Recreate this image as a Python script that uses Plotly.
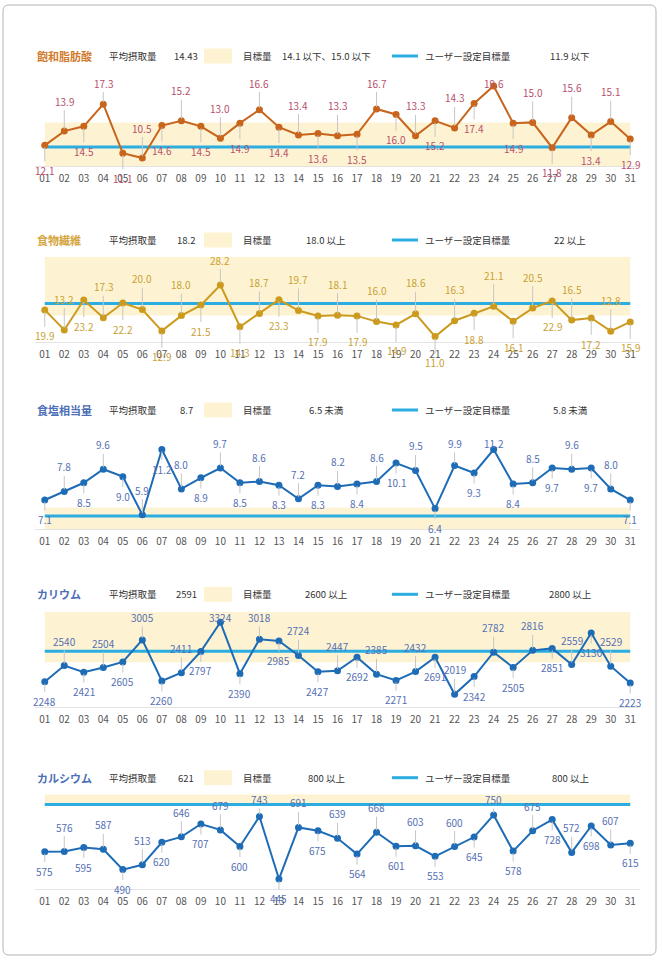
import plotly.graph_objects as go

W, H = 662, 961
FONT = "Noto Sans CJK JP, Noto Sans, sans-serif"

# ---------------- data ----------------
day_nums = list(range(1, 32))
day_labels = [f"{i:02d}" for i in day_nums]

sat_fat = [12.1, 13.9, 14.5, 17.3, 11.1, 10.5, 14.6, 15.2, 14.5, 13.0, 14.9, 16.6, 14.4, 13.4, 13.6, 13.3,
           13.5, 16.7, 16.0, 13.3, 15.2, 14.3, 17.4, 19.6, 14.9, 15.0, 11.8, 15.6, 13.4, 15.1, 12.9]
fiber = [19.9, 13.2, 23.2, 17.3, 22.2, 20.0, 12.9, 18.0, 21.5, 28.2, 14.3, 18.7, 23.3, 19.7, 17.9, 18.1,
         17.9, 16.0, 14.9, 18.6, 11.0, 16.3, 18.8, 21.1, 16.1, 20.5, 22.9, 16.5, 17.2, 12.8, 15.9]
salt = [7.1, 7.8, 8.5, 9.6, 9.0, 5.9, 11.2, 8.0, 8.9, 9.7, 8.5, 8.6, 8.3, 7.2, 8.3, 8.2,
        8.4, 8.6, 10.1, 9.5, 6.4, 9.9, 9.3, 11.2, 8.4, 8.5, 9.7, 9.6, 9.7, 8.0, 7.1]
potassium = [2248, 2540, 2421, 2504, 2605, 3005, 2260, 2411, 2797, 3324, 2390, 3018, 2985, 2724, 2427, 2447,
             2692, 2385, 2271, 2432, 2691, 2019, 2342, 2782, 2505, 2816, 2851, 2559, 3130, 2529, 2223]
calcium = [575, 576, 595, 587, 490, 513, 620, 646, 707, 679, 600, 743, 445, 691, 675, 639,
           564, 668, 601, 603, 553, 600, 645, 750, 578, 675, 728, 572, 698, 607, 615]

series = [sat_fat, fiber, salt, potassium, calcium]
titles = ["飽和脂肪酸", "食物繊維", "食塩相当量", "カリウム", "カルシウム"]
avg_intake = ["14.43", "18.2", "8.7", "2591", "621"]
target_text = ["14.1 以下、15.0 以下", "18.0 以上", "6.5 未満", "2600 以上", "800 以上"]
target_low = [None, 18.0, None, 2600, 800]
target_high = [15.0, None, 6.5, None, None]
user_target = [11.9, 22, 5.8, 2800, 800]
user_text = ["11.9 以下", "22 以上", "5.8 未満", "2800 以上", "800 以上"]
decimals = [1, 1, 1, 0, 0]

# ---------------- styles / layout ----------------
BLUE_T = "#5570b5"
styles = [
    dict(header=56, top=76, bottom=166, yr=(9.49, 20.86), up=30, down=25, clamp=83,
         title_c="#d27a2c", line_c="#c8641c", label_c="#b8506c"),
    dict(header=240, top=256.7, bottom=342.3, yr=(9.1, 37.63), up=31, down=26, clamp=260,
         title_c="#d4a43c", line_c="#cc9b1e", label_c="#c9a132"),
    dict(header=410, top=429, bottom=529.3, yr=(4.72, 12.87), up=24.5, down=19.5, clamp=443.3,
         title_c="#4d6fb6", line_c="#1e6cb6", label_c=BLUE_T),
    dict(header=594.3, top=611.7, bottom=706.7, yr=(1795, 3516), up=24.5, down=19.5, clamp=617.3,
         title_c="#4d6fb6", line_c="#1e6cb6", label_c=BLUE_T),
    dict(header=777.7, top=794.3, bottom=889, yr=(397.6, 848.6), up=24.5, down=19.5, clamp=799.5,
         title_c="#4d6fb6", line_c="#1e6cb6", label_c=BLUE_T),
]

X0, X1 = 35, 640
BAND = "#fdf3d2"
UBLUE = "#2badE2"

fig = go.Figure()
annotations = []
shapes = []
layout = {}

def py(p):
    return 1 - p / H

def px(p):
    return p / W

for i, (vals, st) in enumerate(zip(series, styles)):
    k = i + 1
    xs = "x" if k == 1 else f"x{k}"
    ys = "y" if k == 1 else f"y{k}"
    xa = "xaxis" if k == 1 else f"xaxis{k}"
    ya = "yaxis" if k == 1 else f"yaxis{k}"
    r0, r1 = st["yr"]
    layout[xa] = dict(domain=[px(X0), px(X1)], range=[0.5, 31.5], anchor=ys,
                      tickmode="array", tickvals=day_nums, ticktext=day_labels,
                      tickfont=dict(size=10, color="#555", family=FONT),
                      ticks="outside", ticklen=3, tickcolor="rgba(0,0,0,0)",
                      showline=True, linecolor="#e3e3e3", linewidth=1,
                      showgrid=False, zeroline=False, fixedrange=True)
    layout[ya] = dict(domain=[py(st["bottom"]), py(st["top"])], range=[r0, r1], anchor=xs,
                      visible=False, showgrid=False, zeroline=False, fixedrange=True)

    # target band
    lo = target_low[i] if target_low[i] is not None else r0
    hi = target_high[i] if target_high[i] is not None else r1
    shapes.append(dict(type="rect", xref=xs, yref=ys, x0=1, x1=31, y0=lo, y1=hi,
                       fillcolor=BAND, line=dict(width=0), layer="below"))
    # user target line
    shapes.append(dict(type="line", xref=xs, yref=ys, x0=1, x1=31, y0=user_target[i], y1=user_target[i],
                       line=dict(color=UBLUE, width=3), layer="below"))

    fig.add_trace(go.Scatter(x=day_nums, y=vals, mode="lines+markers", xaxis=xs, yaxis=ys,
                             line=dict(color=st["line_c"], width=2),
                             marker=dict(size=7, color=st["line_c"]),
                             cliponaxis=False, hoverinfo="skip", showlegend=False))

    ppu = (st["bottom"] - st["top"]) / (r1 - r0)
    clamp_v = r1 - (st["clamp"] - st["top"]) / ppu
    for j, (d, v) in enumerate(zip(day_nums, vals)):
        if j % 2 == 0:
            ly = v - st["down"] / ppu
        else:
            ly = min(v + st["up"] / ppu, clamp_v)
        txt = f"{v:.{decimals[i]}f}"
        annotations.append(dict(x=d, y=v, xref=xs, yref=ys, ax=0, ay=ly, axref="pixel", ayref=ys,
                                text=txt, showarrow=True, arrowhead=0, arrowwidth=1,
                                arrowcolor="#c6c6c6", standoff=2,
                                font=dict(size=10, color=st["label_c"], family=FONT)))

    # header
    hy = py(st["header"])
    annotations.append(dict(x=px(35), y=hy, xref="paper", yref="paper", xanchor="left", yanchor="middle",
                            text=f"<b>{titles[i]}</b>", showarrow=False,
                            font=dict(size=11, color=st["title_c"], family=FONT)))
    annotations.append(dict(x=px(107), y=hy, xref="paper", yref="paper", xanchor="left", yanchor="middle",
                            text="平均摂取量", showarrow=False, font=dict(size=9.5, color="#333", family=FONT)))
    annotations.append(dict(x=px(186), y=hy, xref="paper", yref="paper", xanchor="center", yanchor="middle",
                            text=avg_intake[i], showarrow=False, font=dict(size=9.5, color="#333", family=FONT)))
    shapes.append(dict(type="rect", xref="paper", yref="paper", x0=px(204), x1=px(232),
                       y0=py(st["header"] + 7.5), y1=py(st["header"] - 7.5),
                       fillcolor=BAND, line=dict(width=0)))
    annotations.append(dict(x=px(241), y=hy, xref="paper", yref="paper", xanchor="left", yanchor="middle",
                            text="目標量", showarrow=False, font=dict(size=9.5, color="#333", family=FONT)))
    annotations.append(dict(x=px(326), y=hy, xref="paper", yref="paper", xanchor="center", yanchor="middle",
                            text=target_text[i], showarrow=False, font=dict(size=9.5, color="#333", family=FONT)))
    shapes.append(dict(type="line", xref="paper", yref="paper", x0=px(392), x1=px(418), y0=hy, y1=hy,
                       line=dict(color=UBLUE, width=3)))
    annotations.append(dict(x=px(423), y=hy, xref="paper", yref="paper", xanchor="left", yanchor="middle",
                            text="ユーザー設定目標量", showarrow=False, font=dict(size=9.5, color="#333", family=FONT)))
    annotations.append(dict(x=px(570), y=hy, xref="paper", yref="paper", xanchor="center", yanchor="middle",
                            text=user_text[i], showarrow=False, font=dict(size=9.5, color="#333", family=FONT)))

# outer rounded border
bx0, by0, bx1, by1, r = 3, 5, 656, 955, 6
def P(xp, yp):
    return f"{px(xp):.5f},{py(yp):.5f}"
path = (f"M {P(bx0 + r, by0)} L {P(bx1 - r, by0)} Q {P(bx1, by0)} {P(bx1, by0 + r)} "
        f"L {P(bx1, by1 - r)} Q {P(bx1, by1)} {P(bx1 - r, by1)} L {P(bx0 + r, by1)} "
        f"Q {P(bx0, by1)} {P(bx0, by1 - r)} L {P(bx0, by0 + r)} Q {P(bx0, by0)} {P(bx0 + r, by0)} Z")
shapes.append(dict(type="path", xref="paper", yref="paper", path=path,
                   line=dict(color="#b4b4b4", width=1), fillcolor="rgba(0,0,0,0)"))

fig.update_layout(width=W, height=H, margin=dict(l=0, r=0, t=0, b=0),
                  paper_bgcolor="white", plot_bgcolor="rgba(0,0,0,0)",
                  font=dict(family=FONT), showlegend=False,
                  annotations=annotations, shapes=shapes, **layout)

fig.write_html("out.html", config={"displayModeBar": False})
